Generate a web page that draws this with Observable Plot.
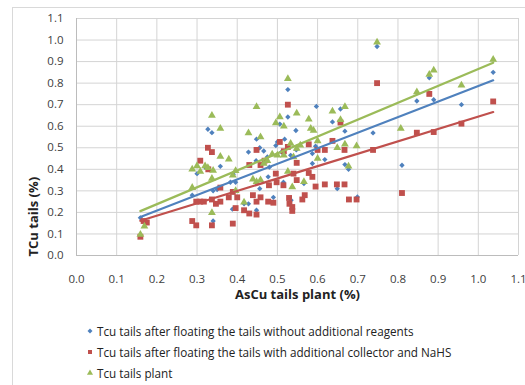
<!DOCTYPE html>
<html>
<head>
<meta charset="utf-8">
<script src="https://cdn.jsdelivr.net/npm/d3@7"></script>
<script src="https://cdn.jsdelivr.net/npm/@observablehq/plot@0.6"></script>
<style>
  html, body { margin: 0; padding: 0; background: #fff; overflow: hidden; width: 525px; height: 385px; }
  #frame { position: absolute; left: 12px; top: 7px; width: 600px; height: 500px; border: 1px solid #d9d9d9; pointer-events: none; }
  #chart { position: absolute; left: 0; top: 0; }
  #legend { position: absolute; left: 86px; top: 321px; font-family: "Open Sans", sans-serif; font-size: 11.7px; color: #222; }
  #legend .row { height: 20.8px; line-height: 20.8px; white-space: nowrap; display: flex; align-items: center; }
  #legend svg { width: 8px; height: 8px; margin-right: 3px; }
</style>
</head>
<body>
<div id="frame"></div>
<div id="chart"></div>
<div id="legend"></div>
<script>
const seriesNames = [
  "Tcu tails after floating the tails without additional reagents",
  "Tcu tails after floating the tails with additional collector and NaHS",
  "Tcu tails plant"
];
const seriesColors = ["#4F81BD", "#C0504D", "#9BBB59"];
const seriesSymbols = ["diamond2", "square", "triangle"];

const xTicks = [0, 0.1, 0.2, 0.3, 0.4, 0.5, 0.6, 0.7, 0.8, 0.9, 1.0, 1.1];
const yTicks = [0, 0.1, 0.2, 0.3, 0.4, 0.5, 0.6, 0.7, 0.8, 0.9, 1.0, 1.1];

// Series 1: without additional reagents (blue)
const blueX = [0.159,0.288,0.300,0.327,0.337,0.320,0.340,0.350,0.358,0.340,0.383,0.390,0.396,0.388,0.428,0.428,0.447,0.448,0.456,0.448,0.456,0.466,0.475,0.480,0.477,0.490,0.496,0.500,0.506,0.518,0.515,0.526,0.526,0.534,0.546,0.547,0.533,0.540,0.566,0.587,0.587,0.597,0.595,0.618,0.637,0.649,0.657,0.668,0.668,0.677,0.699,0.738,0.748,0.810,0.847,0.878,0.889,0.958,1.037,0.510,0.417];
const blueY = [0.175,0.280,0.380,0.586,0.570,0.410,0.300,0.306,0.414,0.160,0.340,0.377,0.340,0.215,0.480,0.240,0.440,0.540,0.500,0.210,0.310,0.485,0.457,0.410,0.365,0.270,0.510,0.527,0.610,0.540,0.340,0.643,0.770,0.257,0.580,0.490,0.465,0.380,0.334,0.473,0.427,0.692,0.507,0.445,0.620,0.310,0.680,0.577,0.422,0.400,0.272,0.569,0.970,0.419,0.717,0.825,0.723,0.700,0.850,0.480,0.240];

// Series 2: with additional collector and NaHS (red)
const redX = [0.159,0.167,0.175,0.288,0.298,0.298,0.308,0.308,0.317,0.327,0.337,0.328,0.337,0.337,0.347,0.358,0.358,0.379,0.389,0.389,0.396,0.400,0.417,0.430,0.430,0.439,0.448,0.448,0.448,0.458,0.458,0.468,0.477,0.479,0.490,0.496,0.498,0.506,0.516,0.515,0.526,0.526,0.529,0.530,0.537,0.537,0.540,0.548,0.548,0.562,0.568,0.578,0.587,0.578,0.595,0.600,0.618,0.618,0.637,0.648,0.657,0.667,0.667,0.678,0.697,0.738,0.748,0.810,0.847,0.878,0.889,0.958,1.037];
const redY = [0.087,0.160,0.153,0.160,0.140,0.250,0.250,0.440,0.250,0.500,0.480,0.400,0.260,0.140,0.240,0.250,0.315,0.270,0.148,0.295,0.220,0.270,0.210,0.195,0.420,0.280,0.490,0.250,0.190,0.420,0.270,0.440,0.250,0.326,0.245,0.380,0.340,0.527,0.484,0.326,0.700,0.504,0.267,0.240,0.225,0.207,0.380,0.430,0.350,0.260,0.280,0.383,0.365,0.516,0.320,0.490,0.330,0.490,0.532,0.330,0.617,0.490,0.330,0.260,0.260,0.490,0.800,0.290,0.570,0.750,0.573,0.612,0.715];

// Series 3: plant tails (green)
const greenX = [0.159,0.169,0.288,0.288,0.300,0.308,0.320,0.327,0.337,0.337,0.337,0.340,0.358,0.358,0.379,0.389,0.396,0.396,0.417,0.428,0.439,0.448,0.448,0.458,0.458,0.466,0.475,0.487,0.496,0.500,0.506,0.516,0.516,0.526,0.526,0.533,0.537,0.540,0.548,0.548,0.557,0.566,0.578,0.583,0.590,0.600,0.600,0.637,0.649,0.657,0.668,0.668,0.677,0.697,0.748,0.807,0.847,0.878,0.889,0.958,1.037];
const greenY = [0.097,0.136,0.315,0.400,0.416,0.390,0.415,0.407,0.650,0.198,0.357,0.395,0.589,0.460,0.447,0.373,0.393,0.300,0.247,0.569,0.354,0.690,0.342,0.550,0.350,0.427,0.440,0.470,0.615,0.465,0.643,0.600,0.465,0.820,0.390,0.520,0.318,0.457,0.660,0.497,0.512,0.342,0.632,0.589,0.580,0.532,0.450,0.670,0.500,0.630,0.690,0.516,0.414,0.508,0.990,0.589,0.759,0.840,0.860,0.790,0.910];

// Linear trend lines (endpoints)
const trendX = [0.159, 1.037];
const blueTrend = [0.179, 0.813];
const redTrend = [0.161, 0.666];
const greenTrend = [0.206, 0.895];

const mk = (xs, ys) => xs.map((x, i) => ({x, y: ys[i]}));
const blue = mk(blueX, blueY);
const red = mk(redX, redY);
const green = mk(greenX, greenY);
const tBlue = mk(trendX, blueTrend);
const tRed = mk(trendX, redTrend);
const tGreen = mk(trendX, greenTrend);

const font = "Open Sans, sans-serif";

const chart = Plot.plot({
  width: 525,
  height: 305,
  marginLeft: 76,
  marginRight: 7,
  marginTop: 18,
  marginBottom: 50,
  style: {fontFamily: font, fontSize: "11.5px", color: "#404040", background: "transparent", overflow: "visible"},
  x: {domain: [0, 1.1], ticks: xTicks, tickFormat: d3.format(".1f"), tickSize: 0, tickPadding: 19, label: null},
  y: {domain: [0, 1.1], ticks: yTicks, tickFormat: d3.format(".1f"), tickSize: 0, tickPadding: 13, label: null},
  marks: [
    Plot.ruleX(xTicks, {stroke: "#d4d4d4", strokeWidth: 1}),
    Plot.ruleY(yTicks, {stroke: "#d4d4d4", strokeWidth: 1}),
    Plot.ruleX([0], {stroke: "#bcbcbc"}),
    Plot.ruleY([0], {stroke: "#bcbcbc"}),
    Plot.dot(blue, {x: "x", y: "y", symbol: () => "diamond2", r: 2.4, fill: seriesColors[0], stroke: "none"}),
    Plot.dot(red, {x: "x", y: "y", symbol: () => "square", r: 3.3, fill: seriesColors[1], stroke: "none"}),
    Plot.dot(green, {x: "x", y: "y", symbol: () => "triangle", r: 2.9, fill: seriesColors[2], stroke: "none"}),
    Plot.line(tBlue, {x: "x", y: "y", stroke: seriesColors[0], strokeWidth: 2.2}),
    Plot.line(tRed, {x: "x", y: "y", stroke: seriesColors[1], strokeWidth: 2.2}),
    Plot.line(tGreen, {x: "x", y: "y", stroke: seriesColors[2], strokeWidth: 2.2}),
    Plot.text(["AsCu tails plant (%)"], {frameAnchor: "bottom", textAnchor: "middle", lineAnchor: "middle", dy: 39, fontWeight: "bold", fontSize: 13, fill: "#222"}),
    Plot.text(["TCu tails (%)"], {x: () => -0.107, y: () => 0.18, textAnchor: "middle", lineAnchor: "middle", rotate: -90, fontWeight: "bold", fontSize: 13, fill: "#222"})
  ]
});
document.getElementById("chart").appendChild(chart);

const legend = document.getElementById("legend");
const symMap = {diamond2: d3.symbolDiamond2, square: d3.symbolSquare, triangle: d3.symbolTriangle};
seriesNames.forEach((name, i) => {
  const row = document.createElement("div");
  row.className = "row";
  const s = d3.create("svg").attr("viewBox", "-4 -4 8 8");
  s.append("path").attr("d", d3.symbol(symMap[seriesSymbols[i]], 16)()).attr("fill", seriesColors[i]);
  row.appendChild(s.node());
  const t = document.createElement("span");
  t.textContent = name;
  row.appendChild(t);
  legend.appendChild(row);
});
</script>
</body>
</html>
